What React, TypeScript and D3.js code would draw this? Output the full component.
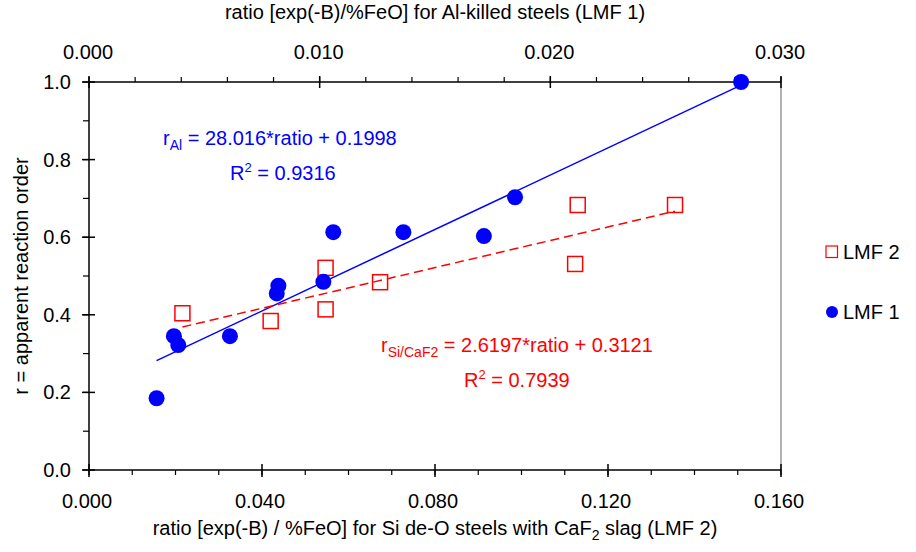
import React, { useEffect } from 'react'
import * as d3 from 'd3'

// LMF 1 : Al-killed steels (top axis)
const lmf1Ratio = [0.00293, 0.00368, 0.00387, 0.00611, 0.00814, 0.00821, 0.01016, 0.01059, 0.01363, 0.01712, 0.01847, 0.02827]
const lmf1R = [0.185, 0.345, 0.322, 0.345, 0.455, 0.475, 0.485, 0.613, 0.613, 0.603, 0.703, 1.0]

// LMF 2 : Si de-O steels with CaF2 slag (bottom axis)
const lmf2Ratio = [0.0216, 0.042, 0.0547, 0.0547, 0.0673, 0.1124, 0.113, 0.1355]
const lmf2R = [0.404, 0.384, 0.521, 0.414, 0.484, 0.531, 0.683, 0.683]

// linear fits [slope, intercept]
const fitAl = [28.016, 0.1998]
const fitSi = [2.6197, 0.3121]

const bottomTicks = [0, 0.04, 0.08, 0.12, 0.16]
const topTicks = [0, 0.01, 0.02, 0.03]
const yTicks = [0, 0.2, 0.4, 0.6, 0.8, 1.0]

const W = 916
const H = 552
const left = 89
const right = 781
const top = 82
const bottom = 470
const FONT = '"Liberation Sans", Arial, sans-serif'
const BLUE = '#0000ff'
const RED = '#ff0000'

const App = () => {
  useEffect(() => {
    document.body.style.margin = '0'
  }, [])

  const xB = d3.scaleLinear().domain([0, 0.16]).range([left, right])
  const xT = d3.scaleLinear().domain([0, 0.03]).range([left, right])
  const y = d3.scaleLinear().domain([0, 1]).range([bottom, top])

  const bottomMinor = xB.ticks(16)
  const topMinor = xT.ticks(15)
  const yMinor = y.ticks(10)

  const alExt = d3.extent(lmf1Ratio) as [number, number]
  const siExt = d3.extent(lmf2Ratio) as [number, number]
  const alLine = d3
    .line<number>()
    .x((d) => xT(d))
    .y((d) => y(fitAl[0] * d + fitAl[1]))(alExt)
  const siLine = d3
    .line<number>()
    .x((d) => xB(d))
    .y((d) => y(fitSi[0] * d + fitSi[1]))(siExt)

  const midX = (left + right) / 2
  const midY = (top + bottom) / 2

  return (
    <svg width={W} height={H} style={{ display: 'block', fontFamily: FONT }}>
      <rect width={W} height={H} fill='#fff' />

      {/* right border */}
      <line x1={right} x2={right} y1={top} y2={bottom} stroke='#999' strokeWidth={1.5} />

      {/* minor ticks */}
      {bottomMinor.map((t, i) => (
        <line key={'bm' + i} x1={xB(t)} x2={xB(t)} y1={bottom} y2={bottom + 5} stroke='#000' strokeWidth={1.2} />
      ))}
      {topMinor.map((t, i) => (
        <line key={'tm' + i} x1={xT(t)} x2={xT(t)} y1={top} y2={top - 5} stroke='#000' strokeWidth={1.2} />
      ))}
      {yMinor.map((t, i) => (
        <line key={'ym' + i} x1={left} x2={left - 6} y1={y(t)} y2={y(t)} stroke='#000' strokeWidth={1.2} />
      ))}

      {/* major ticks */}
      {bottomTicks.map((t, i) => (
        <g key={'bt' + i}>
          <line x1={xB(t)} x2={xB(t)} y1={bottom - 6} y2={bottom + 7} stroke='#000' strokeWidth={1.5} />
          <text x={xB(t) - 2} y={508} textAnchor='middle' fontSize={20}>
            {t.toFixed(3)}
          </text>
        </g>
      ))}
      {topTicks.map((t, i) => (
        <g key={'tt' + i}>
          <line x1={xT(t)} x2={xT(t)} y1={top - 6} y2={top + 6} stroke='#000' strokeWidth={1.5} />
          <text x={xT(t) - 1} y={59} textAnchor='middle' fontSize={20}>
            {t.toFixed(3)}
          </text>
        </g>
      ))}
      {yTicks.map((t, i) => (
        <g key={'yt' + i}>
          <line x1={left - 7} x2={left + 6} y1={y(t)} y2={y(t)} stroke='#000' strokeWidth={1.5} />
          <text x={71} y={y(t) + 7} textAnchor='end' fontSize={20}>
            {t.toFixed(1)}
          </text>
        </g>
      ))}

      {/* axis lines */}
      <line x1={left} x2={right} y1={bottom} y2={bottom} stroke='#000' strokeWidth={1.5} />
      <line x1={left} x2={right} y1={top} y2={top} stroke='#000' strokeWidth={1.5} />
      <line x1={left} x2={left} y1={top} y2={bottom} stroke='#000' strokeWidth={1.5} />

      {/* axis titles */}
      <text x={midX} y={19} textAnchor='middle' fontSize={20}>
        ratio [exp(-B)/%FeO] for Al-killed steels (LMF 1)
      </text>
      <text x={midX} y={535} textAnchor='middle' fontSize={20}>
        ratio [exp(-B) / %FeO] for Si de-O steels with CaF
        <tspan fontSize={14} dy={5}>2</tspan>
        <tspan dy={-5}> slag (LMF 2)</tspan>
      </text>
      <text transform={`translate(28, ${midY}) rotate(-90)`} textAnchor='middle' fontSize={20}>
        r = apparent reaction order
      </text>

      {/* fit lines */}
      <path d={alLine ?? ''} fill='none' stroke={BLUE} strokeWidth={1.5} />
      <path d={siLine ?? ''} fill='none' stroke={RED} strokeWidth={1.5} strokeDasharray='9,5' />

      {/* data */}
      {lmf2Ratio.map((d, i) => (
        <rect
          key={'s' + i}
          x={xB(d) - 7.5}
          y={y(lmf2R[i]) - 7.5}
          width={15}
          height={15}
          fill='none'
          stroke={RED}
          strokeWidth={1.5}
        />
      ))}
      {lmf1Ratio.map((d, i) => (
        <circle key={'c' + i} cx={xT(d)} cy={y(lmf1R[i])} r={8} fill={BLUE} />
      ))}

      {/* equations */}
      <text x={163} y={145} fill={BLUE} fontSize={20}>
        r<tspan fontSize={14} dy={5}>Al</tspan>
        <tspan dy={-5}> = 28.016*ratio + 0.1998</tspan>
      </text>
      <text x={230} y={180} fill={BLUE} fontSize={20}>
        R<tspan fontSize={13} dy={-8}>2</tspan>
        <tspan dy={8}> = 0.9316</tspan>
      </text>
      <text x={381} y={352} fill={RED} fontSize={20}>
        r<tspan fontSize={14} dy={5}>Si/CaF2</tspan>
        <tspan dy={-5}> = 2.6197*ratio + 0.3121</tspan>
      </text>
      <text x={464} y={387} fill={RED} fontSize={20}>
        R<tspan fontSize={13} dy={-8}>2</tspan>
        <tspan dy={8}> = 0.7939</tspan>
      </text>

      {/* legend */}
      <rect x={826} y={246} width={11.5} height={11.5} fill='none' stroke={RED} strokeWidth={1.2} />
      <text x={843} y={259} fontSize={20}>LMF 2</text>
      <circle cx={832} cy={312} r={6} fill={BLUE} />
      <text x={843} y={319} fontSize={20}>LMF 1</text>
    </svg>
  )
}

export default App
